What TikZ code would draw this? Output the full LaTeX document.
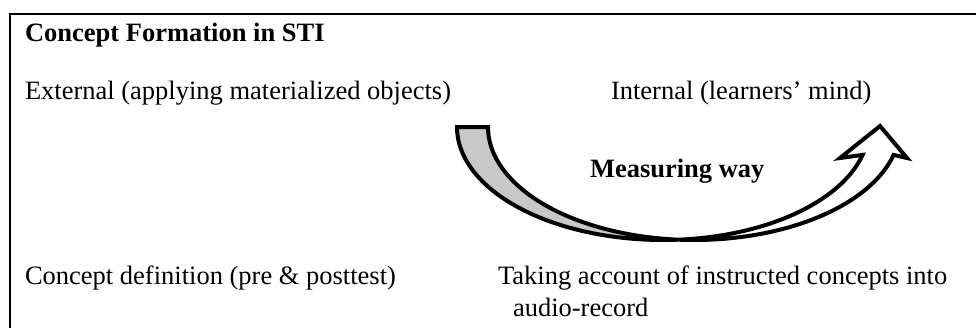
\documentclass[tikz,border=0pt]{standalone}
\usepackage{fontspec}
\setmainfont{Liberation Serif}
\definecolor{backgray}{RGB}{200,200,200}
\tikzset{
  ribbon/.style={draw=black, line width=4pt, line join=miter, miter limit=10},
  frameline/.style={draw=black, line width=2pt},
  lbl/.style={anchor=base west, inner sep=0pt, outer sep=0pt, font=\fontsize{26.5}{31}\selectfont},
  blbl/.style={lbl, font=\fontsize{26.5}{31}\selectfont\bfseries}
}
\begin{document}
\begin{tikzpicture}[x={(1pt,0)}, y={(0,-1pt)}]
\useasboundingbox (0,0) rectangle (976,327);
\fill[white] (0,0) rectangle (976,327);
% frame
\coordinate (fc) at (10,14);
\coordinate (fr) at (976,14);
\coordinate (fb) at (10,330);
\draw[frameline] (fr) -- (fc) -- (fb);
% texts
\node[blbl] (title) at (25,41) {Concept Formation in STI};
\node[lbl] (ext) at (25,99) {External (applying materialized objects)};
\node[lbl] (int) at (611,99) {Internal (learners’ mind)};
\node[blbl] (meas) at (590,177) {Measuring way};
\node[lbl] (cdef) at (25,284) {Concept definition (pre \& posttest)};
\node[lbl] (take1) at (498,284) {Taking account of instructed concepts into};
\node[lbl] (take2) at (513,316) {audio-record};
% curved arrow: back (gray) part
\draw[ribbon, fill=backgray]
  plot[domain=180:85.7, samples=80] ({663+206*cos(\x)},{127+113*sin(\x)})
  -- plot[domain=94.3:180, samples=80] ({694+206*cos(\x)},{127+113*sin(\x)})
  -- cycle;
% curved arrow: front (white) part with head
\draw[ribbon, fill=white]
  plot[domain=85.7:14.3, samples=80] ({663+206*cos(\x)},{127+113*sin(\x)})
  -- (840,158) -- (880,126) -- (907,158)
  -- plot[domain=14.3:94.3, samples=80] ({694+206*cos(\x)},{127+113*sin(\x)})
  -- cycle;
\end{tikzpicture}
\end{document}
